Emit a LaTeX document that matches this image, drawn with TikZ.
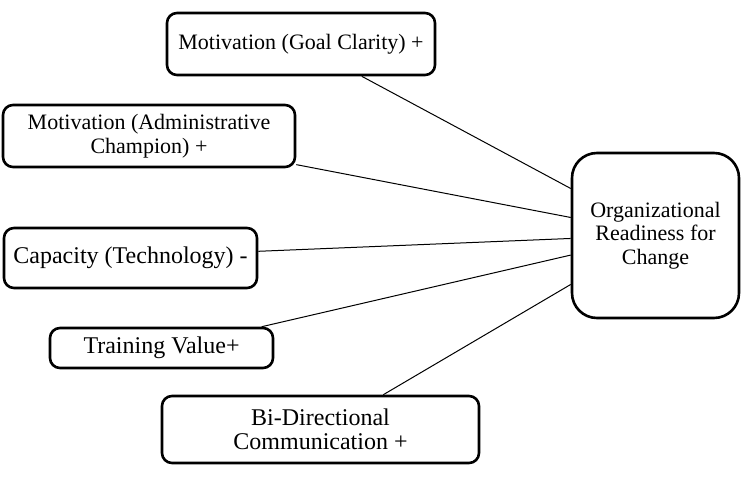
\documentclass[tikz,border=0pt]{standalone}
\usepackage{fontspec}
\setmainfont{Liberation Serif}
\begin{document}
\begin{tikzpicture}[x=1pt,y=-1pt,
  box/.style={draw=black,line width=2.6pt,rounded corners=10pt,fill=white,
    align=center,inner sep=0pt,font=\fontsize{22}{23.5}\selectfont},
  bigbox/.style={box,font=\fontsize{24}{24.5}\selectfont},
  link/.style={draw=black,line width=1pt}]
\useasboundingbox (0,0) rectangle (746,478);
\node[box,minimum width=268pt,minimum height=62pt] (b1) at (301,44) {Motivation (Goal Clarity) +};
\node[box,minimum width=292pt,minimum height=62pt] (b2) at (149,136) {Motivation (Administrative\\Champion) +};
\node[bigbox,minimum width=253pt,minimum height=60pt] (b3) at (130.5,258) {Capacity (Technology) -};
\node[bigbox,minimum width=223pt,minimum height=40pt] (b4) at (161.5,348) {Training Value+};
\node[bigbox,minimum width=317pt,minimum height=67pt] (b5) at (320.5,429.5) {Bi-Directional\\Communication +};
\node[box,rounded corners=25pt,minimum width=167pt,minimum height=165pt] (org) at (655.5,235.5) {Organizational\\Readiness for\\Change};
\draw[link] (b1.-28) -- (org.151.4);
\draw[link] (b2.-11) -- (org.168.8);
\draw[link] (b3.3) -- (org.182.4);
\draw[link] (b4.12) -- (org.193.1);
\draw[link] (b5.29) -- (org.210.7);
\end{tikzpicture}
\end{document}
